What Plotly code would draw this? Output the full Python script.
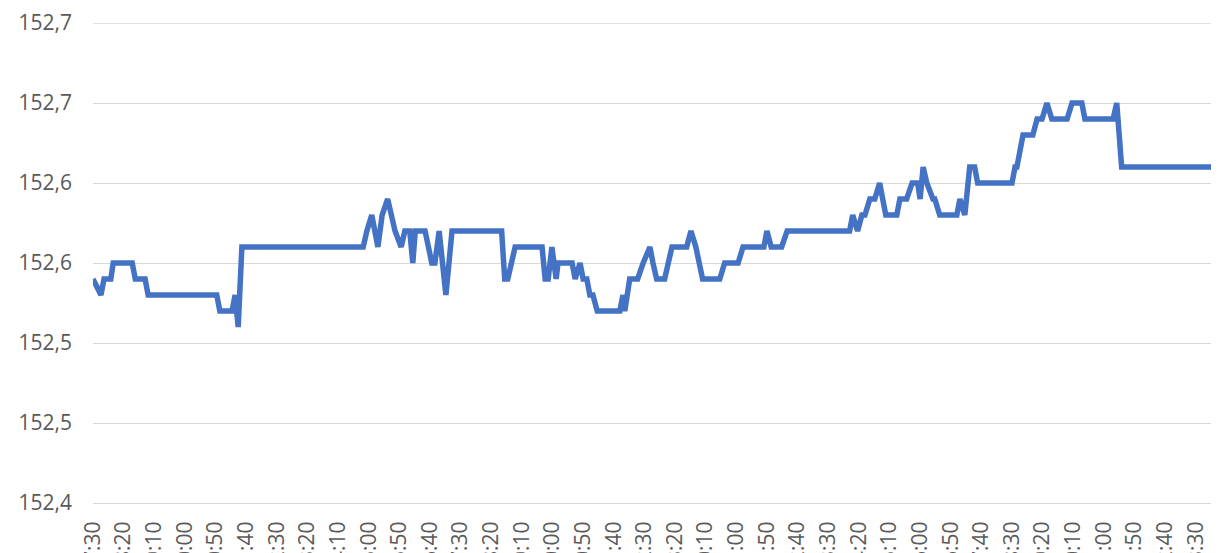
import plotly.graph_objects as go

# minute index (category position) of each change point, and its value
minutes = [0, 13, 18, 29, 33, 64, 69, 85, 90, 202, 207, 227, 232, 237, 243,
           441, 447, 455, 465, 472, 481, 493, 503, 509, 517, 522, 526, 542, 553, 558,
           565, 576, 586, 667, 672, 677, 689, 733, 738, 743, 749, 756, 759, 782, 787,
           795, 800, 806, 811, 816, 823, 860, 865, 868, 876, 889, 898, 909, 914, 920,
           933, 945, 969, 976, 984, 995, 1023, 1031, 1053, 1061, 1095, 1100, 1107, 1124, 1133,
           1235, 1240, 1248, 1255, 1260, 1268, 1276, 1284, 1294, 1312, 1317, 1328, 1337, 1346, 1350,
           1355, 1361, 1371, 1374, 1382, 1410, 1415, 1423, 1431, 1439, 1444, 1500, 1505, 1508, 1518,
           1534, 1541, 1549, 1557, 1565, 1590, 1598, 1614, 1619, 1665, 1671, 1679, 1833]
prices = [152.54, 152.53, 152.54, 152.54, 152.55, 152.55, 152.54, 152.54, 152.53, 152.53,
          152.52, 152.52, 152.53, 152.51, 152.56,
          152.56, 152.57, 152.58, 152.56, 152.58, 152.59, 152.57, 152.56, 152.57, 152.57,
          152.55, 152.57, 152.57, 152.55, 152.55,
          152.57, 152.53, 152.57, 152.57, 152.54, 152.54, 152.56, 152.56, 152.54, 152.54,
          152.56, 152.54, 152.55, 152.55, 152.54,
          152.55, 152.54, 152.54, 152.53, 152.53, 152.52, 152.52, 152.53, 152.52, 152.54,
          152.54, 152.55, 152.56, 152.55, 152.54,
          152.54, 152.56, 152.56, 152.57, 152.56, 152.54, 152.54, 152.55, 152.55, 152.56,
          152.56, 152.57, 152.56, 152.56, 152.57,
          152.57, 152.58, 152.57, 152.58, 152.58, 152.59, 152.59, 152.60, 152.58, 152.58,
          152.59, 152.59, 152.60, 152.60, 152.59,
          152.61, 152.60, 152.59, 152.59, 152.58, 152.58, 152.59, 152.58, 152.61, 152.61,
          152.60, 152.60, 152.61, 152.61, 152.63,
          152.63, 152.64, 152.64, 152.65, 152.64, 152.64, 152.65, 152.65, 152.64, 152.64,
          152.65, 152.61, 152.61]

x_tick_pos = list(range(0, 1801, 50))
x_tick_labels = ["7:30", "8:20", "9:10", "10:00", "10:50", "11:40", "12:30", "13:20",
                 "14:10", "15:00", "15:50", "16:40", "17:30", "18:20", "19:10", "20:00",
                 "20:50", "21:40", "22:30", "23:20", "0:10", "1:00", "1:50", "2:40",
                 "3:30", "4:20", "5:10", "6:00", "6:50", "7:40", "8:30", "9:20",
                 "10:10", "11:00", "11:50", "12:40", "13:30"]

y_tick_vals = [152.40, 152.45, 152.50, 152.55, 152.60, 152.65, 152.70]
y_tick_labels = ["152,4", "152,5", "152,5", "152,6", "152,6", "152,7", "152,7"]

fig = go.Figure()
fig.add_trace(go.Scatter(x=minutes, y=prices, mode="lines",
                         line=dict(color="#4472C4", width=5.5), hoverinfo="skip"))

grid_color = "#d9d9d9"
# top gridline (at the range edge)
fig.add_shape(type="line", xref="paper", x0=0, x1=1, yref="y",
              y0=y_tick_vals[-1], y1=y_tick_vals[-1],
              line=dict(color=grid_color, width=1.3), layer="below")

font_color = "#595959"
fig.update_layout(
    width=1219, height=553,
    margin=dict(l=85, r=11, t=15, b=58, autoexpand=False),
    paper_bgcolor="white", plot_bgcolor="white",
    showlegend=False,
    font=dict(family="Open Sans, Noto Sans, sans-serif", size=20, color=font_color),
)
fig.update_xaxes(
    range=[0, 1833], tickmode="array", tickvals=x_tick_pos, ticktext=x_tick_labels,
    tickangle=-90, showgrid=False, zeroline=False, showline=True,
    linecolor=grid_color, linewidth=1.3, ticks="", ticklabelstandoff=9,
    automargin=False, tickfont=dict(size=21, color=font_color),
)
fig.update_yaxes(
    range=[152.40, 152.70], tickmode="array", tickvals=y_tick_vals, ticktext=y_tick_labels,
    showgrid=True, gridcolor=grid_color, gridwidth=1.3, zeroline=False, showline=False,
    ticks="", ticklabelstandoff=20, automargin=False,
    tickfont=dict(size=21, color=font_color),
)

fig.write_html("out.html")
